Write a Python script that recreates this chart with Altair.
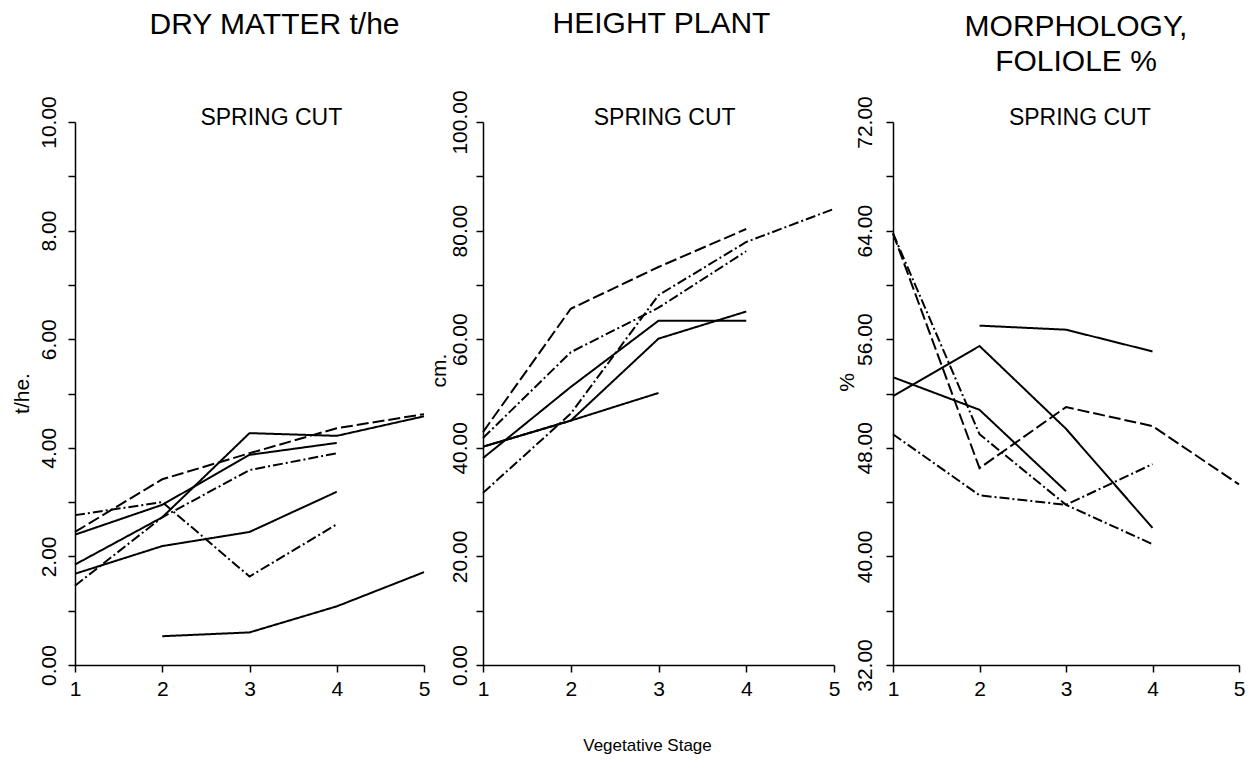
import altair as alt
import pandas as pd

stages = [1, 2, 3, 4, 5]

# Panel 1: DRY MATTER t/he
dm_a = [2.45, 3.42, 3.90, 4.36, 4.62]
dm_b = [2.76, 3.00, 1.63, 2.59, None]
dm_c = [1.85, 2.72, 4.27, 4.22, 4.58]
dm_d = [1.46, 2.72, 3.59, 3.90, None]
dm_e = [1.68, 2.19, 2.45, 3.19, None]
dm_f = [None, 0.53, 0.60, 1.08, 1.71]
dm_g = [2.40, 2.95, 3.87, 4.09, None]

# Panel 2: HEIGHT PLANT (cm)
h_a = [42.9, 65.6, 73.3, 80.3, None]
h_b = [41.8, 57.6, 65.8, 76.2, None]
h_c = [38.1, 51.2, 63.4, 63.4, None]
h_d = [31.7, 46.3, 68.1, 77.9, 84.0]
h_e = [40.2, 45.0, 60.1, 65.1, None]
h_f = [40.2, 45.0, 50.1, None, None]

# Panel 3: MORPHOLOGY, FOLIOLE %
m_a = [63.8, 46.5, 51.0, 49.6, 45.3]
m_b = [63.8, 49.0, 43.8, 40.9, None]
m_c = [53.2, 50.8, 44.8, None, None]
m_d = [49.0, 44.5, 43.8, 46.8, None]
m_e = [51.8, 55.5, 49.4, 42.1, None]
m_f = [None, 57.0, 56.7, 55.1, None]

dash_solid = [1, 0]
dash_dashdot = [10, 3, 2, 3]
dash_dashed = [12, 4]

FONT = "Liberation Sans"


def long_df(series):
    rows = []
    for name, vals in series.items():
        for s, v in zip(stages, vals):
            if v is not None:
                rows.append({"stage": s, "value": v, "series": name})
    return pd.DataFrame(rows)


def panel(series, dashes, ydom, yvals, ystep_label, width, title, title_dx, title_offset,
          ytitle, ytitle_x, ytitle_y, label_pad, spring_x, xtitle=None, xtitle_x=0):
    df = long_df(series)
    names = list(series.keys())
    xaxis = dict(values=stages, format="d", labelFlush=False, labelPadding=6,
                 tickSize=7, title=None)
    if xtitle:
        xaxis.update(title=xtitle, titlePadding=38, titleFontSize=17,
                     titleFont=FONT, titleFontWeight="normal", titleX=xtitle_x)
    lo = ydom[0]
    lines = alt.Chart(df).mark_line(color="black", strokeWidth=2).encode(
        x=alt.X("stage:Q", scale=alt.Scale(domain=[1, 5], nice=False),
                axis=alt.Axis(**xaxis)),
        y=alt.Y("value:Q", scale=alt.Scale(domain=ydom, nice=False, zero=False),
                axis=alt.Axis(values=yvals,
                              labelExpr=f"(datum.value - {lo}) % {ystep_label} == 0 ? format(datum.value, '.2f') : ''",
                              labelAngle=270, labelAlign="center",
                              labelBaseline="bottom", labelPadding=label_pad,
                              labelOverlap=False, tickSize=7,
                              title=ytitle, titleAngle=270, titleBaseline="bottom",
                              titleX=ytitle_x, titleY=ytitle_y,
                              titleFontSize=21, titleFont=FONT,
                              titleFontWeight="normal")),
        detail="series:N",
        strokeDash=alt.StrokeDash("series:N", scale=alt.Scale(domain=names, range=dashes),
                                  legend=None),
    )
    txt = alt.Chart(pd.DataFrame({"x": [spring_x], "y": [ydom[1]], "t": ["SPRING CUT"]})).mark_text(
        font=FONT, fontSize=23, baseline="middle", align="center", color="black", dy=-4
    ).encode(x="x:Q", y="y:Q", text="t:N")
    return alt.layer(lines, txt).properties(
        width=width, height=543,
        title=alt.TitleParams(title, frame="group", anchor="middle", dx=title_dx,
                              baseline="alphabetic", offset=title_offset, fontSize=30,
                              font=FONT, fontWeight="normal", color="black",
                              lineHeight=35),
    )


p1 = panel({"a": dm_a, "b": dm_b, "c": dm_c, "d": dm_d, "e": dm_e, "f": dm_f, "g": dm_g},
           [dash_dashed, dash_dashdot, dash_solid, dash_dashdot, dash_solid, dash_solid, dash_solid],
           [0, 10], list(range(0, 11)), 2, 349, "DRY MATTER t/he", 25, 32,
           "t/he.", -43, 271, 9, 3.25)
p2 = panel({"a": h_a, "b": h_b, "c": h_c, "d": h_d, "e": h_e, "f": h_f},
           [dash_solid, dash_dashed, dash_dashdot, dash_solid, dash_solid, dash_dashed],
           [0, 100], list(range(0, 101, 10)), 20, 351, "HEIGHT PLANT", 3, 27,
           "cm.", -34, 248, 6, 3.07, xtitle="Vegetative Stage", xtitle_x=164)
p3 = panel({"a": m_a, "b": m_b, "c": m_c, "d": m_d, "e": m_e, "f": m_f},
           [dash_solid, dash_solid, dash_dashdot, dash_solid, dash_dashed, dash_solid],
           [32, 72], list(range(32, 73, 4)), 8, 346, ["MORPHOLOGY,", "FOLIOLE %"], 10, -5,
           "%", -36, 260, 11, 3.16)

chart = alt.hconcat(p1, p2, p3, spacing=59, bounds="flush").properties(
    padding={"left": 11, "top": 8, "right": 5, "bottom": 5}
).configure_view(stroke=None).configure_axis(
    grid=False, labelFont=FONT, labelFontSize=21, labelColor="black",
    domainColor="black", tickColor="black", domainWidth=1.5, tickWidth=1.5,
    titleColor="black"
)

chart.save("out.html", embed_options={"renderer": "svg", "actions": False})
